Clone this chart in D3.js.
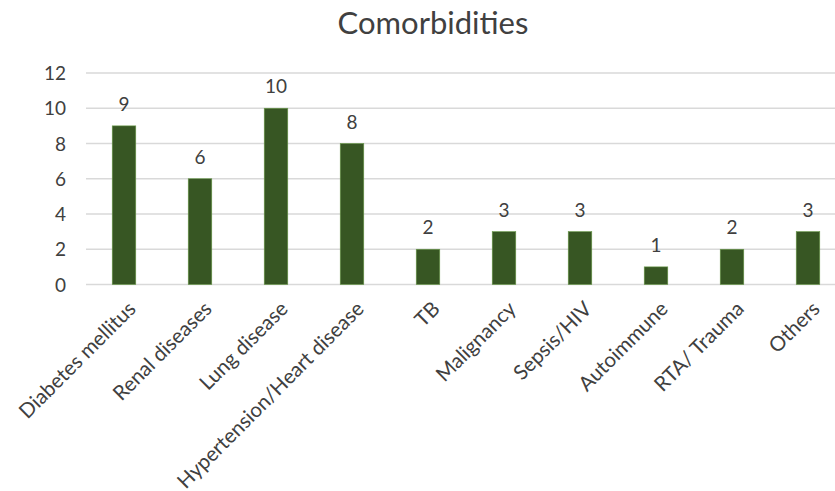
<!DOCTYPE html>
<html><head><meta charset="utf-8">
<script src="https://cdn.jsdelivr.net/npm/d3@7"></script>
<style>body{margin:0;background:#fff}</style>
</head><body>
<svg id="c" width="835" height="491"></svg>
<script>
const categories = ["Diabetes mellitus","Renal diseases","Lung disease","Hypertension/Heart disease","TB","Malignancy","Sepsis/HIV","Autoimmune","RTA/ Trauma","Others"];
const values = [9,6,10,8,2,3,3,1,2,3];
const yTicks = [0,2,4,6,8,10,12];
const title = "Comorbidities";

const svg = d3.select("#c");
const font = "Lato, 'Open Sans', sans-serif";
const x = d3.scaleBand().domain(categories).range([86, 846]).paddingInner(0.69).paddingOuter(0.345);
const y = d3.scaleLinear().domain([0,12]).range([284.5, 73]);

svg.append("text").attr("x", 433).attr("y", 34).attr("text-anchor","middle")
  .attr("font-family", font).attr("font-size", 31).attr("fill","#404040").text(title);

const g = svg.append("g");
g.selectAll("line.grid").data(yTicks).join("line")
  .attr("x1",86).attr("x2",835).attr("y1",d=>y(d)).attr("y2",d=>y(d))
  .attr("stroke","#d9d9d9").attr("stroke-width",1.5);

const yAxis = d3.axisLeft(y).tickValues(yTicks).tickSize(0).tickPadding(0);
const ya = svg.append("g").attr("transform","translate(66,0)").call(yAxis);
ya.select(".domain").remove();
ya.selectAll("text").attr("font-family",font).attr("font-size",19).attr("fill","#404040").attr("dy","0.35em");

g.selectAll("rect").data(values).join("rect")
  .attr("x",(d,i)=>x(categories[i])).attr("width",x.bandwidth())
  .attr("y",d=>y(d)).attr("height",d=>y(0)-y(d))
  .attr("fill","#375623").attr("stroke","#6a9a4a").attr("stroke-width",0.6);

g.selectAll("text.v").data(values).join("text").attr("class","v")
  .attr("x",(d,i)=>x(categories[i])+x.bandwidth()/2).attr("y",d=>y(d)-15)
  .attr("text-anchor","middle").attr("font-family",font).attr("font-size",19).attr("fill","#404040")
  .text(d=>d);

const xAxis = d3.axisBottom(x).tickSize(0).tickPadding(0);
const xa = svg.append("g").attr("transform","translate(0,300)").call(xAxis);
xa.select(".domain").remove();
xa.selectAll("text").attr("font-family",font).attr("font-size",20.5).attr("fill","#404040")
  .attr("text-anchor","end").attr("dy","0.7em").attr("dx","0")
  .attr("transform","translate(3,0) rotate(-45)");
</script>
</body></html>
